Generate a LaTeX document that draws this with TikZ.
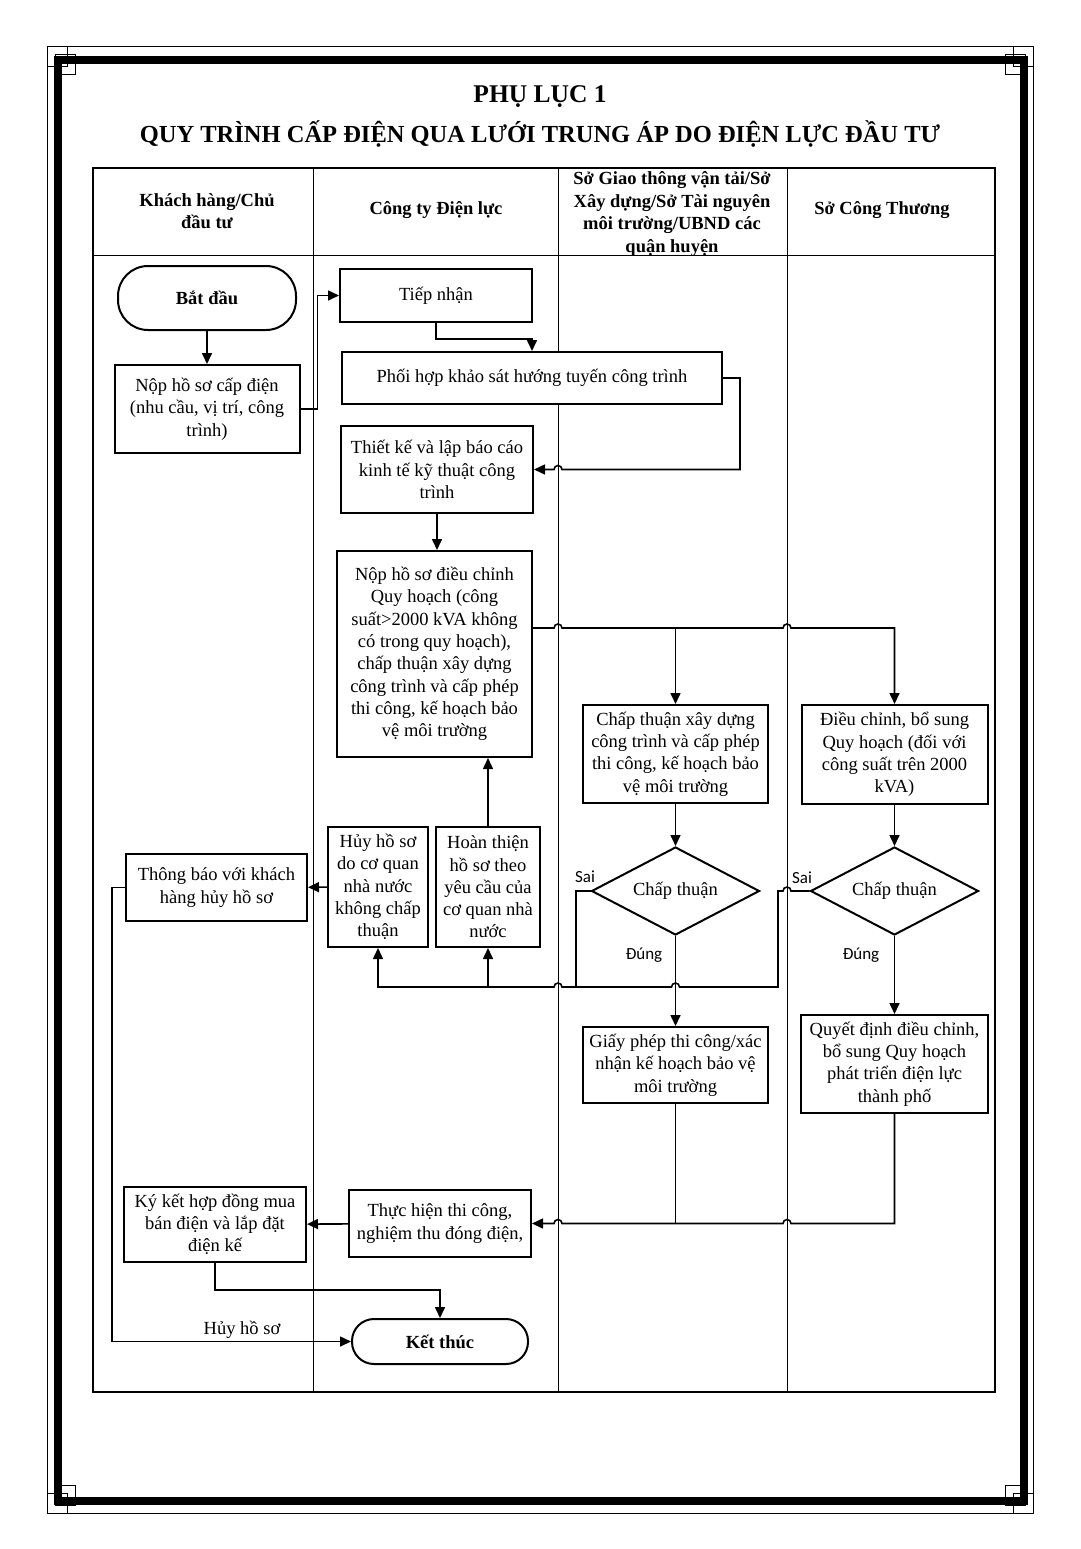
\documentclass[tikz,border=0pt]{standalone}
\usepackage{fontspec}
\setmainfont{Liberation Serif}
\newfontfamily\answerfont{Carlito}
\usetikzlibrary{calc, arrows.meta, shapes.geometric}

\begin{document}
\begin{tikzpicture}[x=1pt, y=-1pt,
		box/.style = {draw, fill=white, line width=2pt, align=center, inner sep=0pt, font=\fontsize{18.5}{22.3}\selectfont},
		term/.style = {box, font=\bfseries\fontsize{18.5}{22.3}\selectfont},
		decision/.style = {draw, fill=white, diamond, line width=2pt, aspect=1.9, inner sep=0pt, minimum width=168pt, minimum height=88pt, font=\fontsize{18.5}{22.3}\selectfont},
		conn/.style = {line width=1.6pt},
		arr/.style = {conn, -{Triangle[length=11pt, width=10pt]}},
		head/.style = {align=center, font=\bfseries\fontsize{18.5}{22.6}\selectfont},
		answer/.style = {font=\answerfont\fontsize{17}{20}\selectfont}]
		\def\J{4pt};
		
		\useasboundingbox (0,0) rectangle (1080,1549);
		
		% page frame
		\draw[line width=7.5pt] (58,60) rectangle (1024,1501);
		\draw[line width=1pt] (47,47) rectangle (1033,1513);
		\foreach \cx/\cy/\sx/\sy in {47/47/1/1, 1033/47/-1/1, 47/1513/1/-1, 1033/1513/-1/-1} {
			\draw[line width=1pt] (\cx,\cy) rectangle ++(20*\sx,20*\sy);
			\draw[line width=1pt] ($(\cx,\cy)+(8*\sx,8*\sy)$) rectangle ++(20*\sx,20*\sy);
		}
		
		% title
		\node[font=\bfseries\fontsize{25.5}{30}\selectfont] (title1) at (540,97) {PHỤ LỤC 1};
		\node[font=\bfseries\fontsize{24.5}{30}\selectfont] (title2) at (540,134) {QUY TRÌNH CẤP ĐIỆN QUA LƯỚI TRUNG ÁP DO ĐIỆN LỰC ĐẦU TƯ};
		
		% lanes
		\coordinate (colA) at (313,0);
		\coordinate (colB) at (558,0);
		\coordinate (colC) at (787,0);
		\draw[line width=1.2pt] (93,168) rectangle (995,1392);
		\draw[line width=1pt] (93,255) -- (995,255);
		\foreach \x in {313,558,787}
			\draw[line width=1pt] (\x,168) -- (\x,1392);
		
		\node[head] (h1) at (207,211) {Khách hàng/Chủ\\đầu tư};
		\node[head] (h2) at (436,210) {Công ty Điện lực};
		\node[head] (h3) at (672,214) {Sở Giao thông vận tải/Sở\\Xây dựng/Sở Tài nguyên\\môi trường/UBND các\\quận huyện};
		\node[head] (h4) at (882,210) {Sở Công Thương};
		
		% steps
		\node[term, rounded corners=30pt, minimum width=178pt, minimum height=64pt] (start) at (207,298) {Bắt đầu};
		\node[box, minimum width=185pt, minimum height=88pt] (hoso) at (207,409) {Nộp hồ sơ cấp điện\\(nhu cầu, vị trí, công\\trình)};
		\node[box, minimum width=192pt, minimum height=53pt] (tiepnhan) at (436,295.5) {Tiếp nhận};
		\node[box, minimum width=380pt, minimum height=52pt] (phoihop) at (532,378) {Phối hợp khảo sát hướng tuyến công trình};
		\node[box, minimum width=192pt, minimum height=87pt] (thietke) at (437,469.5) {Thiết kế và lập báo cáo\\kinh tế kỹ thuật công\\trình};
		\node[box, minimum width=195pt, minimum height=206pt] (dieuchinh) at (434.5,654) {Nộp hồ sơ điều chỉnh\\Quy hoạch (công\\suất>2000 kVA không\\có trong quy hoạch),\\chấp thuận xây dựng\\công trình và cấp phép\\thi công, kế hoạch bảo\\vệ môi trường};
		\node[box, minimum width=185pt, minimum height=98pt] (chapthuan) at (675.5,754) {Chấp thuận xây dựng\\công trình và cấp phép\\thi công, kế hoạch bảo\\vệ môi trường};
		\node[box, minimum width=186pt, minimum height=99pt] (bosung) at (894.5,754.5) {Điều chỉnh, bổ sung\\Quy hoạch (đối với\\công suất trên 2000\\kVA)};
		\node[decision] (dec1) at (675.5,891) {Chấp thuận};
		\node[decision] (dec2) at (894.5,891) {Chấp thuận};
		\node[box, minimum width=185pt, minimum height=76pt] (giayphep) at (675.5,1065) {Giấy phép thi công/xác\\nhận kế hoạch bảo vệ\\môi trường};
		\node[box, minimum width=187pt, minimum height=98pt] (quyetdinh) at (894.5,1064) {Quyết định điều chỉnh,\\bổ sung Quy hoạch\\phát triển điện lực\\thành phố};
		\node[box, minimum width=181pt, minimum height=67pt] (thongbao) at (216.5,887.5) {Thông báo với khách\\hàng hủy hồ sơ};
		\node[box, minimum width=100pt, minimum height=120pt] (huy) at (378,887) {Hủy hồ sơ\\do cơ quan\\nhà nước\\không chấp\\thuận};
		\node[box, minimum width=104pt, minimum height=120pt] (hoanthien) at (488,887) {Hoàn thiện\\hồ sơ theo\\yêu cầu của\\cơ quan nhà\\nước};
		\node[box, minimum width=182pt, minimum height=67pt] (thuchien) at (440,1223.5) {Thực hiện thi công,\\nghiệm thu đóng điện,};
		\node[box, minimum width=182pt, minimum height=75pt] (kyket) at (215,1224.5) {Ký kết hợp đồng mua\\bán điện và lắp đặt\\điện kế};
		\node[term, rounded corners=22pt, minimum width=176pt, minimum height=45pt] (ketthuc) at (440,1341.5) {Kết thúc};
		
		% labels
		\node[answer] (sai1) at (585,877) {Sai};
		\node[answer] (sai2) at (802,878) {Sai};
		\node[answer] (dung1) at (644,955) {Đúng};
		\node[answer] (dung2) at (861,955) {Đúng};
		\node[font=\fontsize{18.5}{22.3}\selectfont] (huylabel) at (242,1330) {Hủy hồ sơ};
		
		\coordinate (fork) at ($(dieuchinh.east)+(0,-26)$);
		\coordinate (bus) at (778,987);
		\coordinate (bus1) at (576,987);
		
		% connectors
		\draw[arr] (start) -- (hoso);
		\draw[arr] (hoso.east) -- ++(17,0) |- (tiepnhan.west);
		\draw[arr] (tiepnhan.south) -- ++(0,16) -| (phoihop.north);
		\draw[arr] (phoihop.east) -- ++(17,0) |- ($(colB|-thietke.east)+(4,0)$) arc[start angle=0, end angle=180, radius=\J] -- (thietke.east);
		\draw[arr] (thietke.south) -- (thietke.south|-dieuchinh.north);
		\draw[arr] (fork) -- ($(colB|-fork)+(-4,0)$) arc[start angle=180, end angle=0, radius=\J] -- ($(colC|-fork)+(-4,0)$) arc[start angle=180, end angle=0, radius=\J] -| (bosung.north);
		\draw[arr] (chapthuan.north|-fork) -- (chapthuan.north);
		\draw[arr] (chapthuan) -- (dec1);
		\draw[arr] (bosung) -- (dec2);
		\draw[arr] (dec1) -- (giayphep);
		\draw[arr] (dec2) -- (quyetdinh);
		
		% Sai branches
		\draw[arr] (dec2.west) -- ($(colC|-dec2.west)+(4,0)$) arc[start angle=0, end angle=180, radius=\J] -| (bus) -- ($(dec1.south|-bus)+(4,0)$) arc[start angle=0, end angle=180, radius=\J] -- ($(colB|-bus)+(4,0)$) arc[start angle=0, end angle=180, radius=\J] -| (huy.south);
		\draw[conn] (dec1.west) -| (bus1);
		\draw[arr] (hoanthien.south|-bus) -- (hoanthien.south);
		\draw[arr] (hoanthien.north) -- (hoanthien.north|-dieuchinh.south);
		\draw[arr] (huy) -- (thongbao);
		
		% to the end
		\draw[conn] (giayphep.south) -- (giayphep.south|-thuchien.east);
		\draw[arr] (quyetdinh.south) |- ($(colC|-thuchien.east)+(4,0)$) arc[start angle=0, end angle=180, radius=\J] -- ($(colB|-thuchien.east)+(4,0)$) arc[start angle=0, end angle=180, radius=\J] -- (thuchien.east);
		\draw[arr] (thuchien) -- (kyket);
		\draw[arr] (kyket.south) -- ++(0,27) -| (ketthuc.north);
		\draw[arr] (thongbao.west) -- ++(-13,0) |- (ketthuc.west);
	\end{tikzpicture}
\end{document}
